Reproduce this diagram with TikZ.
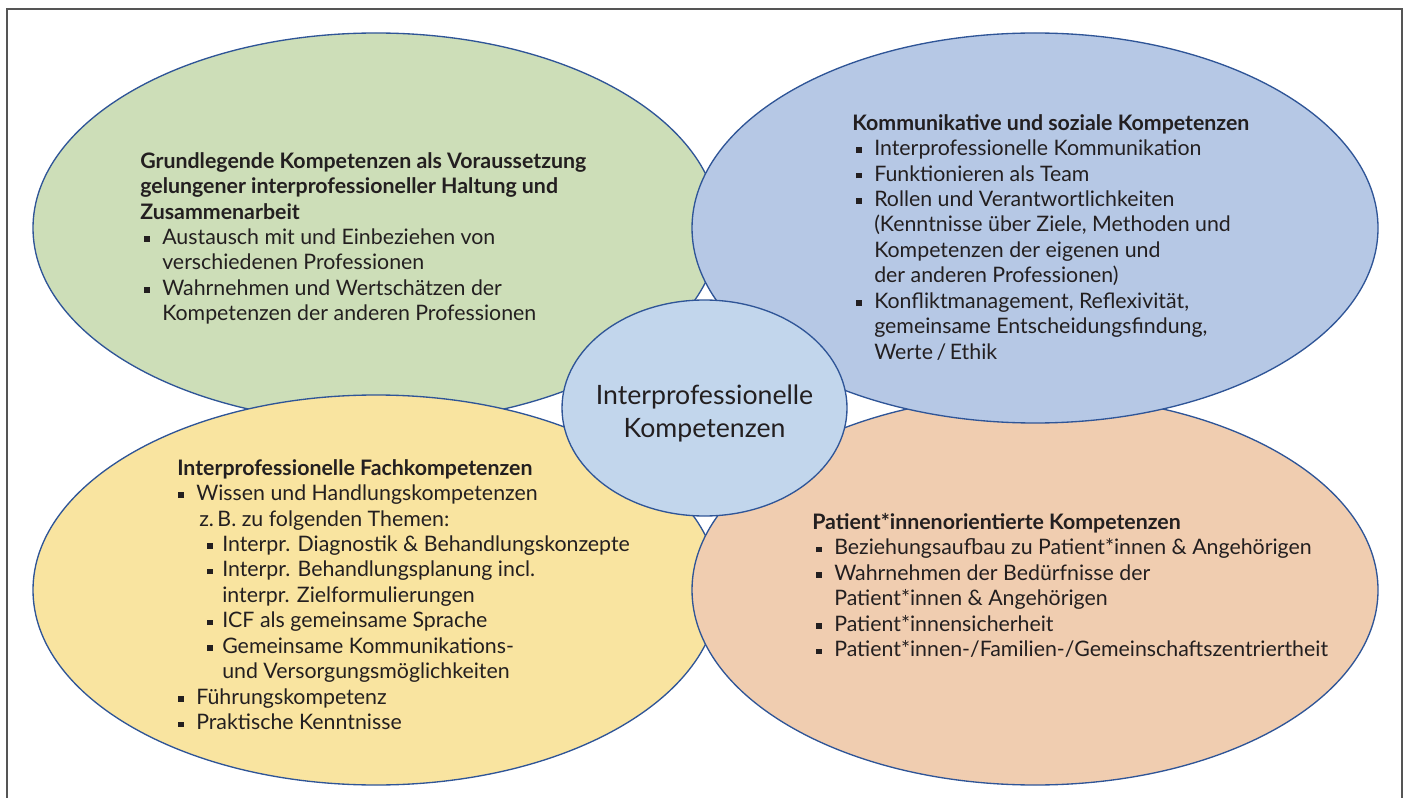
\documentclass[tikz,border=0pt]{standalone}
\usepackage{fontspec}
\setmainfont{Lato}
\usetikzlibrary{shapes.geometric}

\definecolor{grundgreen}{RGB}{205,222,184}
\definecolor{kommblue}{RGB}{182,200,229}
\definecolor{mitteblue}{RGB}{194,214,236}
\definecolor{fachyellow}{RGB}{249,228,160}
\definecolor{patpeach}{RGB}{240,205,176}
\definecolor{rimblue}{RGB}{47,85,151}
\definecolor{framegray}{RGB}{85,85,85}
\definecolor{txtgray}{RGB}{35,31,32}

% bullets and indents
\newcommand{\bul}{\hspace*{3pt}\rule[2.1pt]{4pt}{4pt}\hspace*{9.5pt}}
\newcommand{\ind}{\hspace*{16.5pt}}
\newcommand{\fbul}{\hspace*{0.75pt}\rule[2.1pt]{4pt}{4pt}\hspace*{9.5pt}}
\newcommand{\subbul}{\hspace*{22.5pt}\rule[2.1pt]{4pt}{4pt}\hspace*{7.25pt}}
\newcommand{\subind}{\hspace*{33.75pt}}

\tikzset{
  kreis/.style={ellipse, draw=rimblue, line width=1pt, inner sep=0pt,
    minimum width=514.5pt, minimum height=292.5pt},
  block/.style={anchor=north west, inner sep=0pt, align=left, text=txtgray,
    font=\fontsize{16}{19.1}\selectfont},
}

\begin{document}
\begin{tikzpicture}[x=0.75pt,y=0.75pt,yscale=-1]

\useasboundingbox (0,0) rectangle (1405,798);

% Frame
\draw [framegray, line width=1.1pt] (7,800) -- (7,9) -- (1402,9) -- (1402,800);

% Ellipses
\node [kreis, fill=grundgreen] (grund) at (376,228) {};
\node [kreis, fill=fachyellow] (fach) at (376,590) {};
\node [kreis, fill=patpeach] (patient) at (1035,590) {};
\node [kreis, fill=kommblue] (komm) at (1035,228) {};
\node [ellipse, draw=rimblue, line width=1pt, fill=mitteblue, inner sep=0pt,
  minimum width=213.75pt, minimum height=162pt] (mitte) at (704.5,408) {};

\node [align=center, text=txtgray, font=\fontsize{20}{24.75}\selectfont] (mittetext) at (704.5,413) {Interprofessionelle\\Kompetenzen};

% Texts
\node [block] (grundtext) at (140,152) {%
\textbf{Grundlegende Kompetenzen als Voraussetzung}\\
\textbf{gelungener interprofessioneller Haltung und}\\
\textbf{Zusammenarbeit}\\
\bul Austausch mit und Einbeziehen von\\
\ind verschiedenen Professionen\\
\bul Wahrnehmen und Wertschätzen der\\
\ind Kompetenzen der anderen Professionen};

\node [block] (kommtext) at (852,114) {%
\textbf{Kommunikative und soziale Kompetenzen}\\
\bul Interprofessionelle Kommunikation\\
\bul Funktionieren als Team\\
\bul Rollen und Verantwortlichkeiten\\
\ind (Kenntnisse über Ziele, Methoden und\\
\ind Kompetenzen der eigenen und\\
\ind der anderen Professionen)\\
\bul Konfliktmanagement, Reflexivität,\\
\ind gemeinsame Entscheidungsfindung,\\
\ind Werte\,/\,Ethik};

\node [block] (fachtext) at (177,459) {%
\textbf{Interprofessionelle Fachkompetenzen}\\
\fbul Wissen und Handlungskompetenzen\\
\ind z.\,B. zu folgenden Themen:\\
\subbul Interpr. Diagnostik \& Behandlungskonzepte\\
\subbul Interpr. Behandlungsplanung incl.\\
\subind interpr. Zielformulierungen\\
\subbul ICF als gemeinsame Sprache\\
\subbul Gemeinsame Kommunikations-\\
\subind und Versorgungsmöglichkeiten\\
\fbul Führungskompetenz\\
\fbul Praktische Kenntnisse};

\node [block] (pattext) at (812,513) {%
\textbf{Patient*innenorientierte Kompetenzen}\\
\bul Beziehungsaufbau zu Patient*innen \& Angehörigen\\
\bul Wahrnehmen der Bedürfnisse der\\
\ind Patient*innen \& Angehörigen\\
\bul Patient*innensicherheit\\
\bul Patient*innen-/Familien-/Gemeinschaftszentriertheit};

\end{tikzpicture}
\end{document}
